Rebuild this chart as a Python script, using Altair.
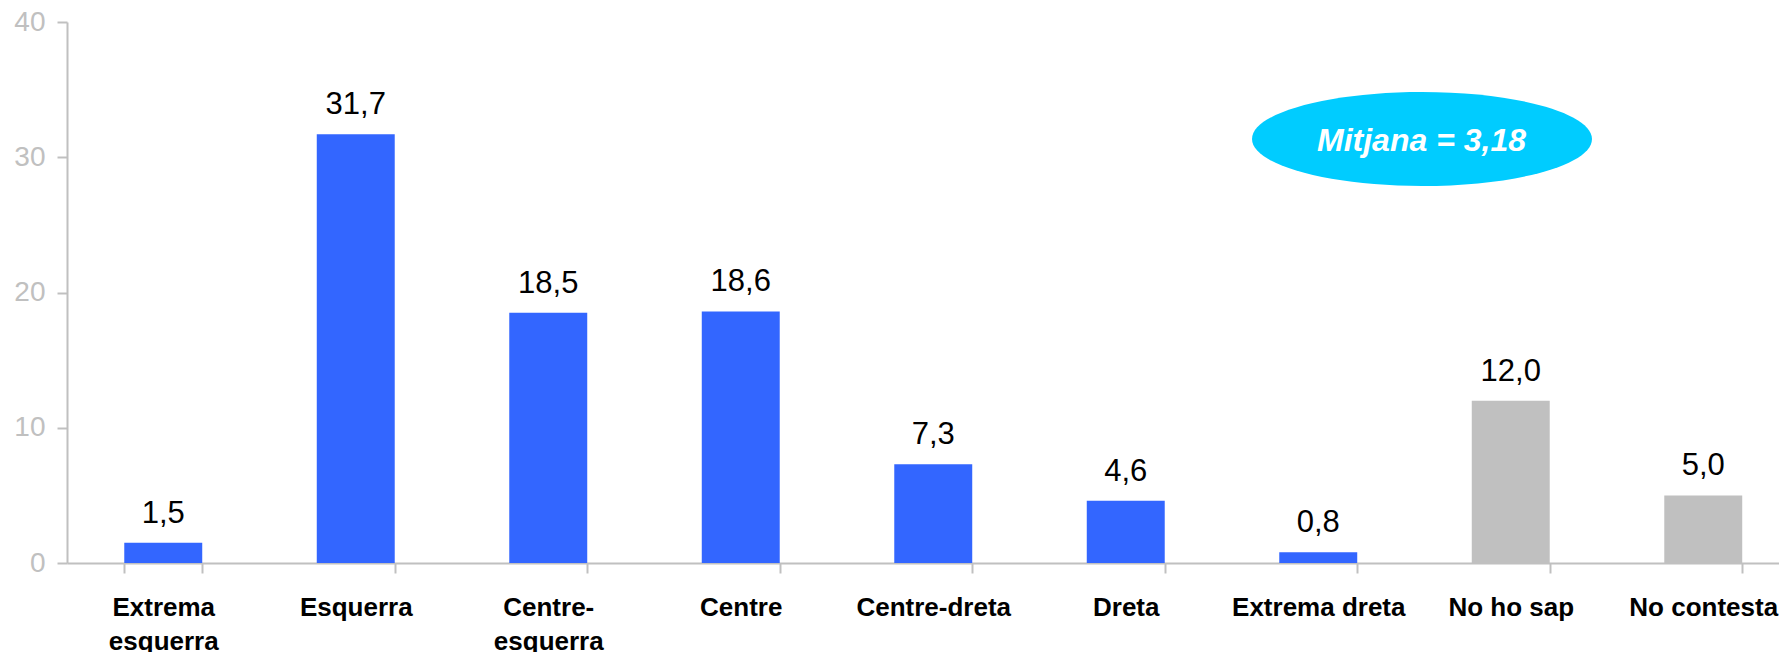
import altair as alt
import pandas as pd

# --- data ---
categories = ["Extrema|esquerra", "Esquerra", "Centre-|esquerra", "Centre", "Centre-dreta",
              "Dreta", "Extrema dreta", "No ho sap", "No contesta"]
values = [1.5, 31.7, 18.5, 18.6, 7.3, 4.6, 0.8, 12.0, 5.0]
groups = ["escala"] * 7 + ["nsnc"] * 2
value_labels = ["1,5", "31,7", "18,5", "18,6", "7,3", "4,6", "0,8", "12,0", "5,0"]
y_ticks = [0, 10, 20, 30, 40]
mean_text = ["Mitjana = 3,18"]

df = pd.DataFrame({"cat": categories, "value": values, "group": groups, "label": value_labels})

FONT = "Liberation Sans"
GREY = "#c0c0c0"

x_scale = alt.Scale(paddingInner=0.595, paddingOuter=0.2975, range=[0, 1732.5])
x_enc = alt.X(
    "cat:N", sort=categories, scale=x_scale,
    axis=alt.Axis(
        title=None, labelExpr="split(datum.label, '|')", labelAngle=0,
        labelFont=FONT, labelFontSize=26, labelFontWeight="bold", labelColor="#000000",
        labelLineHeight=34, labelPadding=21, labelBaseline="top", labelOverlap=False,
        tickSize=10, tickBand="extent", tickColor=GREY, tickWidth=2,
        domainColor=GREY, domainWidth=2,
    ),
)
y_enc = alt.Y(
    "value:Q",
    scale=alt.Scale(domain=[0, 40], nice=False),
    axis=alt.Axis(
        title=None, values=y_ticks, grid=False,
        labelFont=FONT, labelFontSize=28, labelColor=GREY, labelPadding=12,
        tickSize=10, tickColor=GREY, tickWidth=2, domainColor=GREY, domainWidth=2,
    ),
)

base = alt.Chart(df)
bars = base.mark_bar().encode(
    x=x_enc, y=y_enc,
    color=alt.Color("group:N", scale=alt.Scale(domain=["escala", "nsnc"], range=["#3366ff", GREY]), legend=None),
)
labels = base.mark_text(dy=-20, baseline="alphabetic", fontSize=31, font=FONT, color="#000000").encode(
    x=alt.X("cat:N", sort=categories, scale=x_scale), y="value:Q", text="label:N"
)

ellipse_path = ("M -1 0 C -1 -0.1527 -0.5523 -0.2765 0 -0.2765 "
                "C 0.5523 -0.2765 1 -0.1527 1 0 "
                "C 1 0.1527 0.5523 0.2765 0 0.2765 "
                "C -0.5523 0.2765 -1 0.1527 -1 0 Z")
ann = alt.Chart(pd.DataFrame({"t": mean_text}))
ellipse = ann.mark_point(shape=ellipse_path, size=340 * 340, filled=True, color="#00ccff",
                         opacity=1, strokeWidth=0).encode(x=alt.value(1355), y=alt.value(117))
mean_label = ann.mark_text(fontSize=32, font=FONT, fontWeight="bold", fontStyle="italic",
                           color="#ffffff", baseline="alphabetic", align="center").encode(
    x=alt.value(1354.5), y=alt.value(128.5), text="t:N")

chart = alt.layer(bars, labels, ellipse, mean_label).properties(
    width=1712, height=541,
    autosize=alt.AutoSizeParams(type="none"),
    padding={"left": 59, "top": 14, "right": 0, "bottom": 89},
).configure_view(stroke=None)

chart.save("out.html", embed_options={"renderer": "svg", "actions": False})
